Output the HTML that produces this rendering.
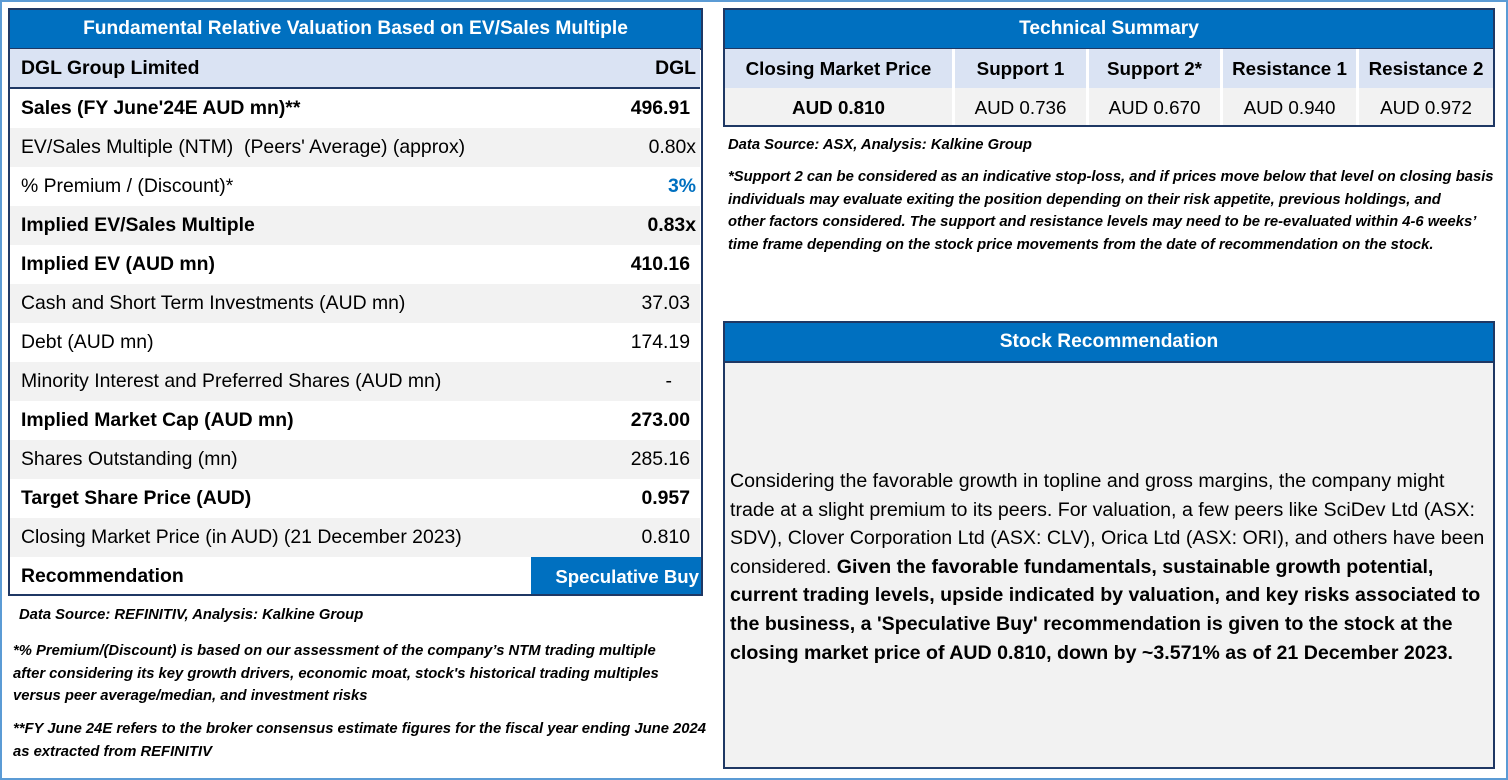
<!DOCTYPE html>
<html><head><meta charset="utf-8">
<style>
*{box-sizing:border-box;margin:0;padding:0}
body{width:1508px;height:780px;background:#fff;position:relative;overflow:hidden;font-family:"Liberation Sans",sans-serif;color:#000}
.abs{position:absolute}
.frame{left:0;top:0;width:1508px;height:780px;border:2px solid #5b9bd5}
.box{border:2px solid #1f3864}
.hdr{background:#0070c0;color:#fff;font-weight:bold;font-size:19.2px;text-align:center;line-height:38px;border-bottom:2px solid #1f3864}
.row{position:absolute;left:0;width:690px;height:39px;font-size:19.4px;line-height:39px;white-space:nowrap}
.row .l{position:absolute;left:11px}
.row .r{position:absolute;right:4px}
.g{background:#f2f2f2}
.b{font-weight:bold}
.note{font-size:14.8px;font-style:italic;font-weight:bold;line-height:22.5px;white-space:nowrap}
.tc{position:absolute;text-align:center;font-size:18.8px;line-height:39px;white-space:nowrap}
</style></head><body>
<div class="abs frame"></div>

<div class="abs box" style="left:8px;top:8px;width:695px;height:588px;overflow:hidden">
  <div class="hdr">Fundamental Relative Valuation Based on EV/Sales Multiple</div>
  <div class="row b" style="top:39px;background:#dae3f3;border-bottom:2px solid #1f3864;height:40px"><span class="l">DGL Group Limited</span><span class="r">DGL</span></div>
  <div class="row b" style="top:79px"><span class="l">Sales (FY June'24E AUD mn)**</span><span class="r" style="right:10px">496.91</span></div>
  <div class="row g" style="top:118px"><span class="l">EV/Sales Multiple (NTM)&nbsp; (Peers' Average) (approx)</span><span class="r">0.80x</span></div>
  <div class="row" style="top:157px"><span class="l">% Premium / (Discount)*</span><span class="r b" style="color:#0070c0">3%</span></div>
  <div class="row g b" style="top:196px"><span class="l">Implied EV/Sales Multiple</span><span class="r">0.83x</span></div>
  <div class="row b" style="top:235px"><span class="l">Implied EV (AUD mn)</span><span class="r" style="right:10px">410.16</span></div>
  <div class="row g" style="top:274px"><span class="l">Cash and Short Term Investments (AUD mn)</span><span class="r" style="right:10px">37.03</span></div>
  <div class="row" style="top:313px"><span class="l">Debt (AUD mn)</span><span class="r" style="right:10px">174.19</span></div>
  <div class="row g" style="top:352px"><span class="l">Minority Interest and Preferred Shares (AUD mn)</span><span class="r" style="right:28px">-</span></div>
  <div class="row b" style="top:391px"><span class="l">Implied Market Cap (AUD mn)</span><span class="r" style="right:10px">273.00</span></div>
  <div class="row g" style="top:430px"><span class="l">Shares Outstanding (mn)</span><span class="r" style="right:10px">285.16</span></div>
  <div class="row b" style="top:469px"><span class="l">Target Share Price (AUD)</span><span class="r" style="right:10px">0.957</span></div>
  <div class="row g" style="top:508px"><span class="l">Closing Market Price (in AUD) (21 December 2023)</span><span class="r" style="right:10px">0.810</span></div>
  <div class="row b" style="top:547px"><span class="l">Recommendation</span><span style="position:absolute;left:521px;width:171px;height:39px;background:#0070c0;color:#fff;text-align:right;padding-right:3px;font-size:18.6px">Speculative Buy</span></div>
</div>

<div class="abs note" style="left:19px;top:604px">Data Source: REFINITIV, Analysis: Kalkine Group</div>
<div class="abs note" style="left:13px;top:640px">*% Premium/(Discount) is based on our assessment of the company’s NTM trading multiple<br>after considering its key growth drivers, economic moat, stock's historical trading multiples<br>versus peer average/median, and investment risks</div>
<div class="abs note" style="left:13px;top:718px">**FY June 24E refers to the broker consensus estimate figures for the fiscal year ending June 2024<br>as extracted from REFINITIV</div>

<div class="abs box" style="left:723px;top:8px;width:772px;height:119px;overflow:hidden">
  <div class="hdr">Technical Summary</div>
  <div class="abs" style="left:0;top:39px;width:768px;height:39px;background:#fff"></div>
  <div class="tc b" style="left:0;top:39px;width:227px;background:#dae3f3">Closing Market Price</div>
  <div class="tc b" style="left:230px;top:39px;width:131px;background:#dae3f3">Support 1</div>
  <div class="tc b" style="left:364px;top:39px;width:131px;background:#dae3f3">Support 2*</div>
  <div class="tc b" style="left:498px;top:39px;width:133px;background:#dae3f3">Resistance 1</div>
  <div class="tc b" style="left:634px;top:39px;width:134px;background:#dae3f3">Resistance 2</div>
  <div class="tc b" style="left:0;top:78px;width:227px;background:#f2f2f2">AUD 0.810</div>
  <div class="tc" style="left:230px;top:78px;width:131px;background:#f2f2f2">AUD 0.736</div>
  <div class="tc" style="left:364px;top:78px;width:131px;background:#f2f2f2">AUD 0.670</div>
  <div class="tc" style="left:498px;top:78px;width:133px;background:#f2f2f2">AUD 0.940</div>
  <div class="tc" style="left:634px;top:78px;width:134px;background:#f2f2f2">AUD 0.972</div>
</div>
<div class="abs note" style="left:728px;top:134px">Data Source: ASX, Analysis: Kalkine Group</div>
<div class="abs note" style="left:728px;top:166px">*Support 2 can be considered as an indicative stop-loss, and if prices move below that level on closing basis<br>individuals may evaluate exiting the position depending on their risk appetite, previous holdings, and<br>other factors considered. The support and resistance levels may need to be re-evaluated within 4-6 weeks’<br>time frame depending on the stock price movements from the date of recommendation on the stock.</div>

<div class="abs box" style="left:723px;top:321px;width:772px;height:448px;background:#f2f2f2;overflow:hidden">
  <div class="hdr">Stock Recommendation</div>
  <div class="abs" style="left:5px;top:144px;font-size:19.6px;line-height:28.6px;white-space:nowrap">Considering the favorable growth in topline and gross margins, the company might<br>trade at a slight premium to its peers. For valuation, a few peers like SciDev Ltd (ASX:<br>SDV), Clover Corporation Ltd (ASX: CLV), Orica Ltd (ASX: ORI), and others have been<br>considered. <b>Given the favorable fundamentals, sustainable growth potential,<br>current trading levels, upside indicated by valuation, and key risks associated to<br>the business, a 'Speculative Buy' recommendation is given to the stock at the<br>closing market price of AUD 0.810, down by ~3.571% as of 21 December 2023.</b></div>
</div>
</body></html>
